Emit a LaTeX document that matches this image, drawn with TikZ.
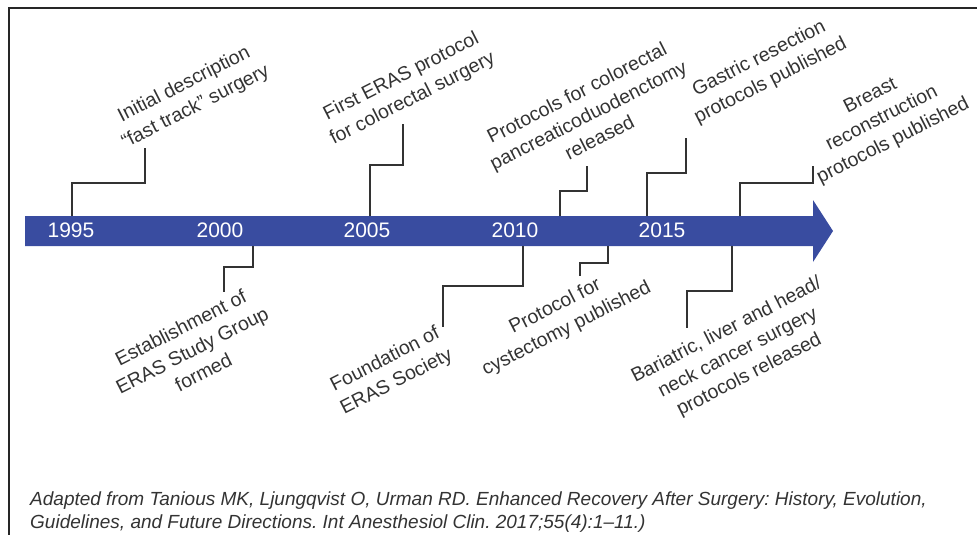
\documentclass[tikz,border=0pt]{standalone}
\usepackage{fontspec}
\setmainfont{Liberation Sans}
\definecolor{barblue}{RGB}{57,76,160}
\definecolor{inkgray}{RGB}{51,51,51}
\frenchspacing

\begin{document}
\begin{tikzpicture}[x = 1pt, y = -1pt,
	conn/.style = {draw=inkgray, line width=2.4pt},
	event/.style = {rotate=27, align=center, text=inkgray, inner sep=0pt,
		font=\fontsize{19.5}{25}\selectfont},
	year/.style = {text=white, inner sep=0pt, font=\fontsize{21}{24}\selectfont},
	cite/.style = {anchor=base west, inner sep=0pt, text=inkgray,
		font=\itshape\fontsize{19}{23}\selectfont}]
	\useasboundingbox (0,0) rectangle (977,535);
	
	% frame
	\draw[line width=2pt, draw=black!85] (8.5,535) -- (8.5,8.5) -- (977,8.5);
	
	% timeline arrow
	\fill[barblue] (25,216) -- (813,216) -- (813,200) -- (833,231)
		-- (813,262) -- (813,246) -- (25,246) -- cycle;
	
	\node[year] (y95) at (71,230.5) {1995};
	\node[year] (y00) at (220,230.5) {2000};
	\node[year] (y05) at (367,230.5) {2005};
	\node[year] (y10) at (515,230.5) {2010};
	\node[year] (y15) at (662,230.5) {2015};
	
	% events above
	\node[event] (l95) at (190,96) {Initial description\\“fast track” surgery};
	\node[event] (l05) at (407,88) {First ERAS protocol\\for colorectal surgery};
	\node[event] (l10a) at (588,115) {Protocols for colorectal\\pancreaticoduodenctomy\\released};
	\node[event] (l15) at (765,70) {Gastric resection\\protocols published};
	\node[event] (lbr) at (882,119) {Breast\\reconstruction\\protocols published};
	
	% events below
	\node[event] (l00) at (192,350) {Establishment of\\ERAS Study Group\\formed};
	\node[event] (l10b) at (391,371) {Foundation of\\ERAS Society};
	\node[event] (lcy) at (561,318) {Protocol for\\cystectomy published};
	\node[event] (lba) at (738,353) {Bariatric, liver and head/\\neck cancer surgery\\protocols released};
	
	% connectors
	\coordinate (s95) at (72,216);   \coordinate (e95) at (145,148);
	\coordinate (s05) at (370,216);  \coordinate (e05) at (403,124);
	\coordinate (s10a) at (560,216); \coordinate (e10a) at (587,166);
	\coordinate (s15) at (647,216);  \coordinate (e15) at (686,138);
	\coordinate (sbr) at (740,216);  \coordinate (ebr) at (813,166);
	\coordinate (s00) at (253,246);  \coordinate (e00) at (224,292);
	\coordinate (s10b) at (523,246); \coordinate (e10b) at (443,327);
	\coordinate (scy) at (608,246);  \coordinate (ecy) at (580,276);
	\coordinate (sba) at (732,246);  \coordinate (eba) at (687,328);
	
	\draw[conn] (s95) -- ++(0,-33) -| (e95);
	\draw[conn] (s05) -- ++(0,-51) -| (e05);
	\draw[conn] (s10a) -- ++(0,-25) -| (e10a);
	\draw[conn] (s15) -- ++(0,-43) -| (e15);
	\draw[conn] (sbr) -- ++(0,-33) -| (ebr);
	\draw[conn] (s00) -- ++(0,21) -| (e00);
	\draw[conn] (s10b) -- ++(0,40) -| (e10b);
	\draw[conn] (scy) -- ++(0,17) -| (ecy);
	\draw[conn] (sba) -- ++(0,45) -| (eba);
	
	% source
	\node[cite] (c1) at (30,505) {Adapted from Tanious MK, Ljungqvist O, Urman RD. Enhanced Recovery After Surgery: History, Evolution,};
	\node[cite] (c2) at (30,528) {Guidelines, and Future Directions. Int Anesthesiol Clin. 2017;55(4):1–11.)};
\end{tikzpicture}
\end{document}
